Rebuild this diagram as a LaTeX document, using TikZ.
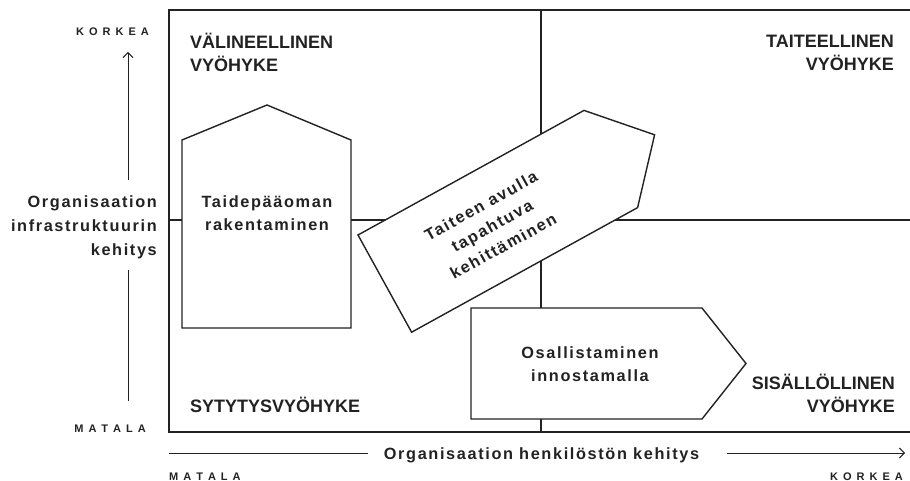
\documentclass[tikz,border=0pt]{standalone}
\usepackage{fontspec}
\setmainfont{Liberation Sans}
\newfontfamily\trackedfont[LetterSpace=10]{Liberation Sans}
\usetikzlibrary{arrows.meta}
\definecolor{ink}{HTML}{222222}
\newcommand\tkgap{\kern5pt}

\tikzset{
  frameline/.style={draw=ink, line width=2.8pt},
  shapeline/.style={draw=ink, fill=white, line width=1.4pt, line join=miter},
  axisline/.style={draw=ink, line width=0.9pt},
  axisarrow/.style={axisline, -{Straight Barb[length=5pt,width=10pt]}},
  zone/.style={font=\fontsize{18}{23}\selectfont\bfseries, text=ink, inner sep=0pt},
  body/.style={font=\trackedfont\fontsize{16.3}{23}\selectfont\bfseries, text=ink, inner sep=0pt, align=center},
  tick/.style={font=\fontsize{11}{13}\selectfont\bfseries, text=ink, inner sep=0pt},
}

\begin{document}
\begin{tikzpicture}[x=1pt,y=-1pt]
\useasboundingbox (0,0) rectangle (910,481);

% quadrant frame, open on the right
\coordinate (tl) at (169,10);
\coordinate (tr) at (910,10);
\coordinate (bl) at (169,432);
\coordinate (br) at (910,432);
\coordinate (mt) at (541,10);
\coordinate (mb) at (541,432);
\coordinate (ml) at (169,220);
\coordinate (mr) at (910,220);
\draw[frameline] (tr) -- (tl) -- (bl) -- (br);
\draw[frameline] (mt) -- (mb);
\draw[frameline] (ml) -- (mr);

% house-shaped block
\draw[shapeline] (182,328) -- (182,140) -- (267,105) -- (351,140) -- (351,328) -- cycle;
% tilted arrow block
\draw[shapeline] (358,235) -- (584,110.4) -- (654.6,134.8) -- (637.6,207.6) -- (411.6,332.2) -- cycle;
% horizontal arrow block
\draw[shapeline] (471,308) -- (702,308) -- (746,363.5) -- (702,419) -- (471,419) -- cycle;

% zone titles
\node[zone, anchor=west, align=left] (zoneInstr) at (190,52) {VÄLINEELLINEN\\VYÖHYKE};
\node[zone, anchor=east, align=right] (zoneArt) at (894,53) {TAITEELLINEN\\VYÖHYKE};
\node[zone, anchor=east, align=right] (zoneContent) at (895,393) {SISÄLLÖLLINEN\\VYÖHYKE};
\node[zone, anchor=base west] (zoneIgnite) at (190,412) {SYTYTYSVYÖHYKE};

% block texts
\node[body] (capital) at (267,213) {Taidepääoman\\rakentaminen};
\node[body, rotate=29] (develop) at (492,226) {Taiteen avulla\\tapahtuva\\kehittäminen};
\node[body] (engage) at (590,364) {Osallistaminen\\innostamalla};

% vertical axis
\node[body, anchor=east, align=right, font=\trackedfont\fontsize{16.3}{24}\selectfont\bfseries] (ylabel) at (157,227) {Organisaation\\infrastruktuurin\\kehitys};
\coordinate (vtop) at (128,52);
\coordinate (vupper) at (128,180);
\coordinate (vlower) at (128,270);
\coordinate (vbottom) at (128,401);
\draw[axisarrow] (vupper) -- (vtop);
\draw[axisline] (vlower) -- (vbottom);
\node[tick, anchor=base east] (yhigh) at (149,36) {K\tkgap O\tkgap R\tkgap K\tkgap E\tkgap A};
\node[tick, anchor=base east] (ylow) at (146,432) {M\tkgap A\tkgap T\tkgap A\tkgap L\tkgap A};

% horizontal axis
\node[body, anchor=base] (xlabel) at (541.5,459) {Organisaation henkilöstön kehitys};
\coordinate (hleft) at (169,453);
\coordinate (hleftend) at (368,453);
\coordinate (hright) at (727,453);
\coordinate (htip) at (905,453);
\draw[axisline] (hleft) -- (hleftend);
\draw[axisarrow] (hright) -- (htip);
\node[tick, anchor=base west] (xlow) at (169,480) {M\tkgap A\tkgap T\tkgap A\tkgap L\tkgap A};
\node[tick, anchor=base east] (xhigh) at (903,480) {K\tkgap O\tkgap R\tkgap K\tkgap E\tkgap A};
\end{tikzpicture}
\end{document}
